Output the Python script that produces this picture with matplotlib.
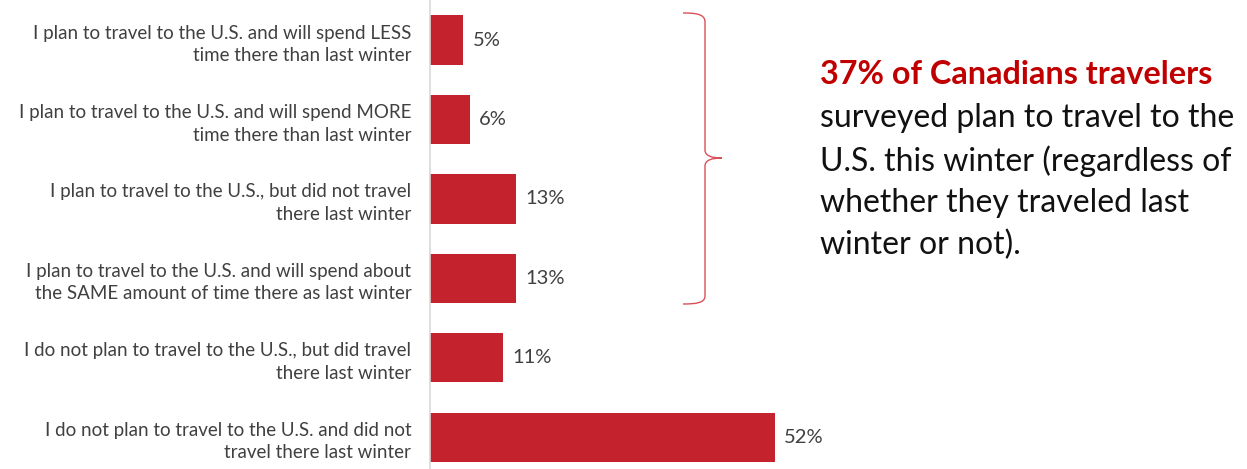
import matplotlib.pyplot as plt
from matplotlib.path import Path
from matplotlib.patches import PathPatch

plt.rcParams['font.family'] = ['Lato', 'DejaVu Sans']

# survey answers, top to bottom
answers = [
    "I plan to travel to the U.S. and will spend LESS\ntime there than last winter",
    "I plan to travel to the U.S. and will spend MORE\ntime there than last winter",
    "I plan to travel to the U.S., but did not travel\nthere last winter",
    "I plan to travel to the U.S. and will spend about\nthe SAME amount of time there as last winter",
    "I do not plan to travel to the U.S., but did travel\nthere last winter",
    "I do not plan to travel to the U.S. and did not\ntravel there last winter",
]
shares = [5, 6, 13, 13, 11, 52]

bar_red = "#C4232D"
W, H = 1247, 469

fig = plt.figure(figsize=(W / 100, H / 100), dpi=100)
ax = fig.add_axes([430 / W, 0, 398 / W, 1])

pos = list(range(len(answers)))
ax.barh(pos, shares, height=0.62, color=bar_red)
ax.set_xlim(0, 60)
ax.set_ylim(5.40, -0.504)

for p, v in zip(pos, shares):
    ax.text(v + 1.4, p, f"{v}%", va="center", ha="left", fontsize=14.5, color="#404040")

ax.set_yticks(pos)
ax.set_yticklabels(answers, fontsize=13.5, color="#404040", linespacing=1.4)
ax.tick_params(axis="y", length=0, pad=13.5)
ax.set_xticks([])
for side in ["top", "right", "bottom"]:
    ax.spines[side].set_visible(False)
ax.spines["left"].set_color("#D9D9D9")
ax.spines["left"].set_linewidth(1.2)

# overlay in pixel units for the brace and the callout text
ov = fig.add_axes([0, 0, 1, 1])
ov.set_xlim(0, W)
ov.set_ylim(H, 0)
ov.axis("off")

verts = [
    (683, 13), (696, 13), (705, 14), (705, 22),
    (705, 150),
    (705, 156), (712, 158), (722, 158),
    (712, 158), (705, 160), (705, 166),
    (705, 296),
    (705, 303), (696, 304), (683, 304),
]
codes = [Path.MOVETO, Path.CURVE4, Path.CURVE4, Path.CURVE4,
         Path.LINETO,
         Path.CURVE4, Path.CURVE4, Path.CURVE4,
         Path.CURVE4, Path.CURVE4, Path.CURVE4,
         Path.LINETO,
         Path.CURVE4, Path.CURVE4, Path.CURVE4]
ov.add_patch(PathPatch(Path(verts, codes), fill=False, edgecolor="#D9505A", linewidth=1.0))

ov.text(820, 75, "37% of Canadians travelers", fontsize=23.3, fontweight="bold",
        color="#C00000", va="center", ha="left")
ov.text(820, 103, "surveyed plan to travel to the\nU.S. this winter (regardless of\n"
        "whether they traveled last\nwinter or not).",
        fontsize=23, color="#111111", va="top", ha="left", linespacing=1.47)

fig.savefig("out.png", dpi=100)
